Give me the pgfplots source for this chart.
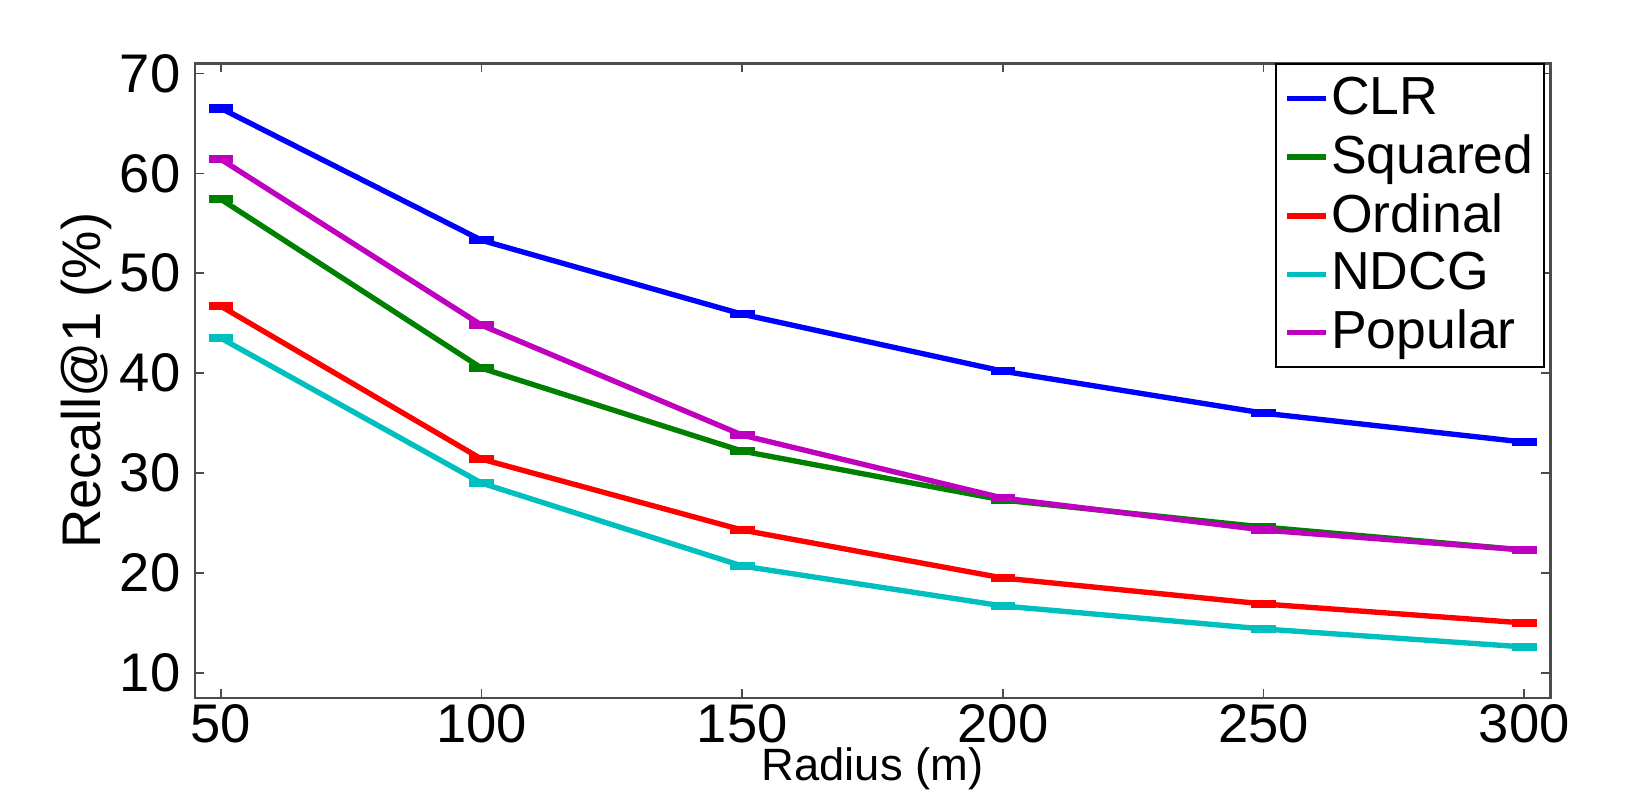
\documentclass[border=0pt]{standalone}
\usepackage{fontspec}
\setmainfont{Liberation Sans}
\usepackage{pgfplots}
\pgfplotsset{compat=1.18}

\definecolor{mblue}{rgb}{0,0,1}
\definecolor{mgreen}{rgb}{0,0.5,0}
\definecolor{mred}{rgb}{1,0,0}
\definecolor{mcyan}{rgb}{0,0.75,0.75}
\definecolor{mmag}{rgb}{0.75,0,0.75}

\begin{document}
\begin{tikzpicture}
\begin{axis}[
    at={(0,0)}, anchor=south west,
    scale only axis,
    width=329pt, height=154pt,
    xmin=45, xmax=305,
    ymin=7.5, ymax=71,
    xtick={50,100,150,200,250,300},
    ytick={10,20,30,40,50,60,70},
    tick align=inside,
    major tick length=2.2pt,
    tick style={black!70, line width=0.4pt},
    axis line style={black!70, line width=0.6pt},
    font=\fontsize{13.2}{15}\selectfont,
    /pgf/number format/assume math mode=true,
    xticklabel style={yshift=2pt},
    xlabel={Radius (m)},
    ylabel={Recall@1 (\%)},
    xlabel style={at={(axis description cs:0.5,0)}, anchor=south,
        yshift=-22.6pt, inner sep=0pt, font=\fontsize{11}{12}\selectfont},
    ylabel style={yshift=-5pt},
    legend style={
        at={(0.996,1)}, anchor=north east,
        draw=black, line width=0.5pt,
        font=\fontsize{13}{15}\selectfont,
        row sep=-0.6pt, inner xsep=2pt, inner ysep=1pt,
        cells={anchor=west},
        /tikz/every even column/.append style={column sep=0pt},
        nodes={inner xsep=0.5pt},
    },
    legend image code/.code={
        \draw[#1, mark=none, line width=1.3pt] (0pt,0pt) -- (9.5pt,0pt);
    },
    every axis plot/.append style={line width=1.3pt, mark=-, mark size=3pt,
        mark options={line width=2pt}},
]
\addplot[mblue] coordinates {
    (50,66.5) (100,53.3) (150,45.9) (200,40.2) (250,36.0) (300,33.1)
};
\addplot[mgreen] coordinates {
    (50,57.4) (100,40.5) (150,32.2) (200,27.3) (250,24.6) (300,22.3)
};
\addplot[mred] coordinates {
    (50,46.7) (100,31.4) (150,24.3) (200,19.5) (250,16.9) (300,15.0)
};
\addplot[mcyan] coordinates {
    (50,43.5) (100,29.0) (150,20.7) (200,16.7) (250,14.4) (300,12.6)
};
\addplot[mmag] coordinates {
    (50,61.4) (100,44.8) (150,33.8) (200,27.5) (250,24.3) (300,22.3)
};
\legend{CLR, Squared, Ordinal, NDCG, Popular}
\end{axis}
\pgfresetboundingbox
\path[use as bounding box] (-47.3pt,-22.8pt) rectangle (352.7pt,169.4pt);
\end{tikzpicture}
\end{document}
